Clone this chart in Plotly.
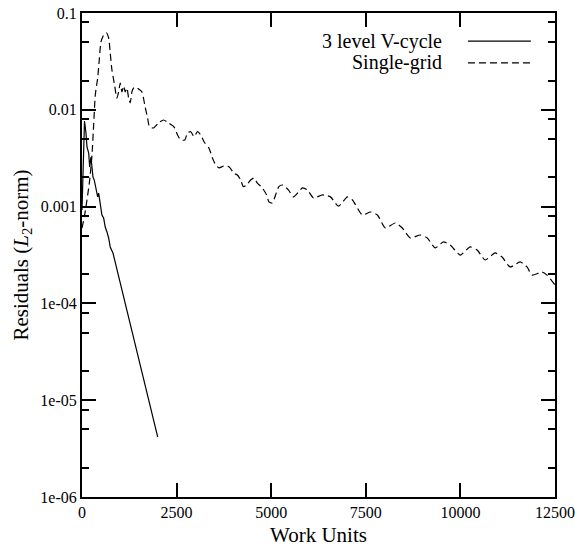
import plotly.graph_objects as go

# ---- data ----
single_x = [0, 61, 132, 203, 264, 308, 351, 414, 456, 501, 572, 641, 704, 746, 791, 852, 923, 968,
            1010, 1055, 1100, 1142, 1187, 1232, 1274, 1319, 1363, 1432, 1495, 1582, 1669, 1733, 1786,
            1891, 2023, 2155, 2286, 2434, 2524, 2611, 2716, 2787, 2874, 2962, 3051, 3138, 3225, 3357,
            3447, 3534, 3621, 3753, 3884, 4016, 4106, 4193, 4264, 4351, 4457, 4544, 4633, 4765, 4879,
            4939, 5029, 5116, 5203, 5300, 5459, 5591, 5828, 5960, 6118, 6355, 6566, 6777, 7015, 7147,
            7410, 7621, 7806, 8017, 8280, 8465, 8676, 8940, 9124, 9335, 9546, 9731, 9995, 10258, 10443,
            10654, 10918, 11102, 11313, 11577, 11761, 11893, 12157, 12289, 12500]
single_y = [6.01e-4, 7.81e-4, 1.17e-3, 1.88e-3, 3.41e-3, 6.97e-3, 0.0142, 0.0213, 0.0327, 0.0501,
            0.0593, 0.0625, 0.0552, 0.0386, 0.0258, 0.0189, 0.0132, 0.0153, 0.0189, 0.0153, 0.0176,
            0.0153, 0.0168, 0.0132, 0.0118, 0.0153, 0.0168, 0.0172, 0.0164, 0.0153, 0.0107, 0.00822,
            0.00664, 0.00649, 0.00731, 0.00785, 0.00731, 0.00664, 0.00550, 0.00488, 0.00488, 0.00576,
            0.00594, 0.00528, 0.00594, 0.00550, 0.00468, 0.00400, 0.00318, 0.00269, 0.00251, 0.00263,
            0.00258, 0.00221, 0.00212, 0.00188, 0.00161, 0.00167, 0.00188, 0.00197, 0.00175, 0.00156,
            0.00132, 0.00112, 0.00109, 0.00132, 0.00161, 0.00167, 0.00148, 0.00126, 0.00156, 0.00148,
            0.00123, 0.00132, 0.00126, 0.00101, 0.00126, 0.00117, 8.19e-4, 8.79e-4, 8.19e-4, 6.01e-4,
            6.77e-4, 6.01e-4, 4.74e-4, 5.09e-4, 4.74e-4, 3.74e-4, 4.31e-4, 4.01e-4, 3.16e-4, 3.83e-4,
            3.56e-4, 2.81e-4, 3.32e-4, 3.01e-4, 2.38e-4, 2.68e-4, 2.38e-4, 1.96e-4, 2.11e-4, 1.96e-4,
            1.55e-4]

vcycle_x = [0, 66, 105, 132, 177, 203, 237, 264, 290, 324, 369, 414, 440, 483, 527, 572, 614, 659,
            704, 746, 818, 2000]
vcycle_y = [9.23e-4, 7.66e-3, 5.76e-3, 4.13e-3, 3.58e-3, 2.56e-3, 3.25e-3, 2.28e-3, 2.02e-3, 1.88e-3,
            1.59e-3, 1.26e-3, 1.38e-3, 1.01e-3, 8.19e-4, 7.62e-4, 6.15e-4, 5.47e-4, 4.74e-4, 3.83e-4,
            3.32e-4, 4.17e-6]

series_names = ["3 level V-cycle", "Single-grid"]

x_ticks = [0, 2500, 5000, 7500, 10000, 12500]
x_ticktext = ["0", "2500", "5000", "7500", "10000", "12500"]
y_ticks = [1e-6, 1e-5, 1e-4, 1e-3, 1e-2, 1e-1]
y_ticktext = ["1e-06", "1e-05", "1e-04", "0.001", "0.01", "0.1"]
y_minor = [m * 10.0 ** e for e in range(-6, -1) for m in (2, 5, 8)]

FONT = "Liberation Serif"

fig = go.Figure()
fig.add_trace(go.Scatter(x=single_x, y=single_y, mode="lines", name=series_names[1],
                         line=dict(color="black", width=1.2, dash="7px,4px",
                                   shape="spline", smoothing=0.6)))
fig.add_trace(go.Scatter(x=vcycle_x, y=vcycle_y, mode="lines", name=series_names[0],
                         line=dict(color="black", width=1.2)))

# legend drawn gnuplot-style (text right, sample on the right)
leg_y = [0.942, 0.897]
dashes = ["solid", "7px,4px"]
for name, yy, d in zip(series_names, leg_y, dashes):
    fig.add_annotation(x=0.765, y=yy, xref="paper", yref="paper", text=name, showarrow=False,
                       xanchor="right", yanchor="middle", font=dict(family=FONT, size=20, color="black"))
    fig.add_shape(type="line", xref="paper", yref="paper", x0=0.816, x1=0.949, y0=yy, y1=yy,
                  line=dict(color="black", width=1.2, dash=d))

fig.update_layout(
    width=575, height=548,
    margin=dict(l=82, r=20, t=13, b=51),
    paper_bgcolor="white", plot_bgcolor="white",
    showlegend=False,
    font=dict(family=FONT, color="black"),
)
fig.update_xaxes(
    range=[0, 12500], tickvals=x_ticks, ticktext=x_ticktext, ticks="inside", ticklen=14,
    tickwidth=1.5, tickcolor="black", showline=True, linewidth=2, linecolor="black",
    mirror="ticks", showgrid=False, zeroline=False, tickfont=dict(family=FONT, size=16),
    automargin=False,
    title=dict(text="Work Units", font=dict(family=FONT, size=21), standoff=7),
)
fig.update_yaxes(
    type="log", range=[-6, -1], tickvals=y_ticks, ticktext=y_ticktext, ticks="inside",
    ticklen=14, tickwidth=1.5, tickcolor="black", showline=True, linewidth=2, linecolor="black",
    mirror="ticks", showgrid=False, zeroline=False, tickfont=dict(family=FONT, size=16),
    automargin=False,
    minor=dict(tickmode="array", tickvals=y_minor, ticks="inside", ticklen=7, tickwidth=1.5,
               tickcolor="black", showgrid=False),
    title=dict(text="Residuals (<i>L</i><sub>2</sub>-norm)", font=dict(family=FONT, size=21), standoff=6),
)

fig.write_html("out.html")
